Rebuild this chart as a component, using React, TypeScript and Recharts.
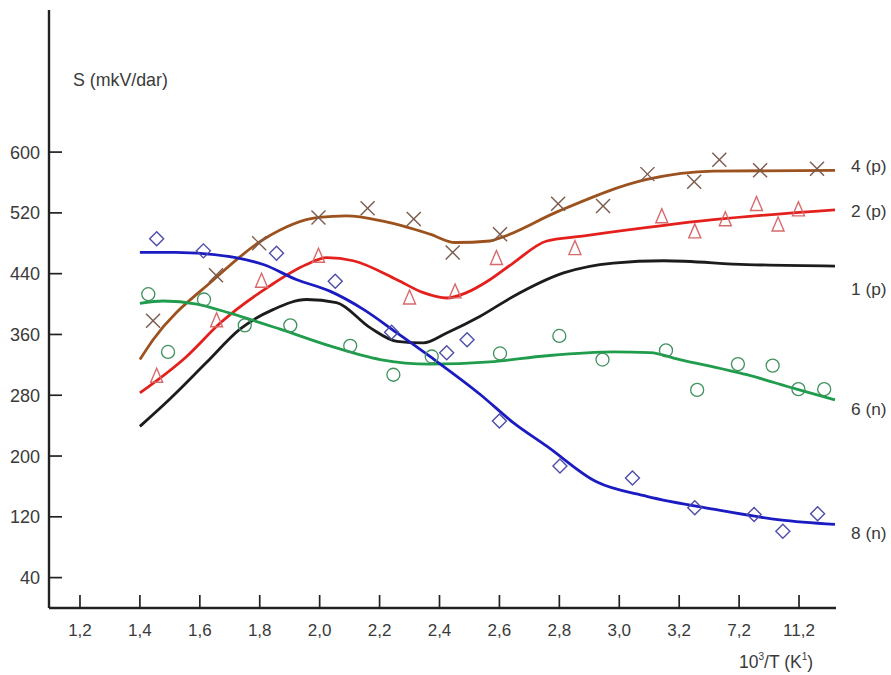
import React from 'react';
import { ComposedChart, Line, Scatter, XAxis, YAxis } from 'recharts';

// x positions are in tick-index units (0 = "1,2", 1 = "1,4", ... 12 = "11,2")
const xTickLabels = ['1,2', '1,4', '1,6', '1,8', '2,0', '2,2', '2,4', '2,6', '2,8', '3,0', '3,2', '7,2', '11,2'];
const xTicks = [0, 1, 2, 3, 4, 5, 6, 7, 8, 9, 10, 11, 12];
const yTicks = [40, 120, 200, 280, 360, 440, 520, 600];

// curve 4 (p) - brown
const c4X = [1.0, 1.22, 2.23, 3.06, 3.98, 4.45, 5.06, 5.84, 6.26, 6.84, 7.01, 7.98, 9.46, 10.57, 12.6];
const c4Y = [327, 353, 432, 485, 514, 516, 509, 492, 481, 483, 487, 522, 564, 575, 576];
const m4X = [1.22, 2.27, 2.99, 3.98, 4.8, 5.57, 6.22, 7.01, 7.98, 8.73, 9.47, 10.25, 10.67, 11.35, 12.3];
const m4Y = [378, 438, 480, 514, 526, 512, 468, 492, 532, 529, 571, 561, 590, 576, 578];

// curve 2 (p) - red
const c2X = [1.0, 1.78, 2.34, 3.17, 3.78, 4.12, 4.56, 5.29, 5.73, 6.12, 6.45, 6.84, 7.23, 7.79, 8.34, 10.57, 12.6];
const c2Y = [283, 331, 375, 424, 452, 461, 457, 432, 415, 408, 415, 432, 454, 483, 489, 511, 524];
const m2X = [1.28, 2.28, 3.03, 3.98, 5.5, 6.26, 6.95, 8.26, 9.71, 10.26, 10.77, 11.29, 11.65, 11.99];
const m2Y = [305, 378, 430, 463, 408, 416, 460, 473, 515, 495, 511, 531, 504, 524];

// curve 1 (p) - black
const c1X = [1.0, 1.5, 2.11, 2.67, 3.23, 3.78, 4.28, 4.84, 5.29, 5.73, 6.12, 6.68, 7.23, 8.07, 8.9, 9.74, 11.13, 12.6];
const c1Y = [239, 275, 323, 367, 393, 406, 402, 369, 351, 349, 362, 384, 410, 441, 454, 457, 452, 450];

// curve 6 (n) - green
const c6X = [1.0, 1.39, 1.95, 2.5, 3.34, 4.17, 5.01, 5.84, 6.84, 7.79, 8.9, 9.51, 10.01, 11.13, 11.96, 12.6];
const c6Y = [401, 404, 400, 388, 367, 345, 327, 321, 324, 332, 337, 336, 327, 307, 288, 274];
const m6X = [1.14, 1.47, 2.07, 2.75, 3.51, 4.51, 5.23, 5.87, 7.01, 8.0, 8.72, 9.78, 10.3, 10.98, 11.56, 11.99, 12.42];
const m6Y = [413, 337, 406, 372, 372, 345, 307, 331, 335, 358, 327, 339, 287, 321, 319, 288, 288];

// curve 8 (n) - blue
const c8X = [1.0, 1.6, 2.1, 2.6, 3.06, 3.62, 4.17, 4.73, 5.29, 5.84, 6.68, 7.23, 7.79, 8.62, 9.46, 10.57, 11.68, 12.6];
const c8Y = [468, 468, 466, 461, 452, 432, 417, 393, 362, 331, 281, 244, 213, 166, 147, 130, 116, 110];
const m8X = [1.28, 2.06, 3.28, 4.26, 5.2, 6.12, 6.46, 7.0, 8.01, 9.22, 10.26, 11.25, 11.73, 12.31];
const m8Y = [486, 470, 467, 430, 363, 336, 353, 246, 187, 171, 132, 123, 101, 124];

const seriesLabels = ['4 (p)', '2 (p)', '1 (p)', '6 (n)', '8 (n)'];
const seriesLabelY = [166, 211, 289, 409, 533];

const zip = (xs: number[], ys: number[]) => xs.map((x, i) => ({ x, y: ys[i] }));

const TEXT = '#3a3a3a';
const FONT = '"Liberation Sans", Arial, sans-serif';

const YTick = (props: any) => {
  const { x, y, payload } = props;
  return (
    <g>
      <line x1={x} x2={x + 13} y1={y} y2={y} stroke="#222" strokeWidth={1.7} />
      <text x={x - 9} y={y + 6.5} textAnchor="end" fontSize={18} fill={TEXT} fontFamily={FONT}>
        {payload.value}
      </text>
    </g>
  );
};

const XTick = (props: any) => {
  const { x, y, payload } = props;
  return (
    <g>
      <line x1={x} x2={x} y1={y - 13} y2={y} stroke="#222" strokeWidth={1.7} />
      <text x={x} y={y + 28} textAnchor="middle" fontSize={17} fill={TEXT} fontFamily={FONT}>
        {xTickLabels[payload.value]}
      </text>
    </g>
  );
};

const Cross = (p: any) => {
  const { cx, cy } = p;
  const s = 7;
  return (
    <g stroke="#7a5a4c" strokeWidth={1.4}>
      <line x1={cx - s} y1={cy - s} x2={cx + s} y2={cy + s} />
      <line x1={cx - s} y1={cy + s} x2={cx + s} y2={cy - s} />
    </g>
  );
};
const Tri = (p: any) => {
  const { cx, cy } = p;
  return (
    <polygon
      points={`${cx},${cy - 8} ${cx - 6},${cy + 6} ${cx + 6},${cy + 6}`}
      fill="none"
      stroke="#d8696b"
      strokeWidth={1.4}
    />
  );
};
const Circ = (p: any) => {
  const { cx, cy } = p;
  return <circle cx={cx} cy={cy} r={6.5} fill="none" stroke="#3f915d" strokeWidth={1.3} />;
};
const Diam = (p: any) => {
  const { cx, cy } = p;
  const s = 7;
  return (
    <polygon
      points={`${cx},${cy - s} ${cx + s},${cy} ${cx},${cy + s} ${cx - s},${cy}`}
      fill="none"
      stroke="#4d4daa"
      strokeWidth={1.4}
    />
  );
};

export default function App() {
  return (
    <div style={{ position: 'absolute', left: 0, top: 0, width: 891, height: 675, background: '#fff' }}>
      <ComposedChart width={891} height={675} margin={{ top: 10, right: 55, bottom: 0, left: 0 }}>
        <XAxis
          type="number"
          dataKey="x"
          domain={[-0.517, 12.617]}
          ticks={xTicks}
          tick={<XTick />}
          tickSize={0}
          tickMargin={0}
          tickLine={false}
          axisLine={{ stroke: '#222', strokeWidth: 2.4 }}
          height={67}
          allowDataOverflow
          interval={0}
        />
        <YAxis
          type="number"
          dataKey="y"
          domain={[0, 787]}
          ticks={yTicks}
          tick={<YTick />}
          tickSize={0}
          tickMargin={0}
          tickLine={false}
          axisLine={{ stroke: '#222', strokeWidth: 2.4 }}
          width={49}
          allowDataOverflow
          interval={0}
        />
        <Line data={zip(c4X, c4Y)} dataKey="y" type="monotone" stroke="#9c521f" strokeWidth={2.8} dot={false} isAnimationActive={false} />
        <Line data={zip(c2X, c2Y)} dataKey="y" type="monotone" stroke="#e3201c" strokeWidth={2.8} dot={false} isAnimationActive={false} />
        <Line data={zip(c1X, c1Y)} dataKey="y" type="monotone" stroke="#1c1c1c" strokeWidth={2.8} dot={false} isAnimationActive={false} />
        <Line data={zip(c6X, c6Y)} dataKey="y" type="monotone" stroke="#1f9d4c" strokeWidth={2.8} dot={false} isAnimationActive={false} />
        <Line data={zip(c8X, c8Y)} dataKey="y" type="monotone" stroke="#1b1bc2" strokeWidth={2.8} dot={false} isAnimationActive={false} />
        <Scatter data={zip(m4X, m4Y)} dataKey="y" shape={<Cross />} isAnimationActive={false} />
        <Scatter data={zip(m2X, m2Y)} dataKey="y" shape={<Tri />} isAnimationActive={false} />
        <Scatter data={zip(m6X, m6Y)} dataKey="y" shape={<Circ />} isAnimationActive={false} />
        <Scatter data={zip(m8X, m8Y)} dataKey="y" shape={<Diam />} isAnimationActive={false} />
      </ComposedChart>
      <svg width={891} height={675} style={{ position: 'absolute', left: 0, top: 0, pointerEvents: 'none' }}>
        <text x={73} y={86} fontSize={17.8} fill={TEXT} fontFamily={FONT}>S (mkV/dar)</text>
        {seriesLabels.map((t, i) => (
          <text key={t} x={851} y={seriesLabelY[i] + 6} fontSize={17.3} fill={TEXT} fontFamily={FONT}>{t}</text>
        ))}
        <text x={739} y={668} fontSize={17.5} fill={TEXT} fontFamily={FONT}>
          10<tspan fontSize={10} dy={-8}>3</tspan>
          <tspan dy={8}>/T (K</tspan>
          <tspan fontSize={10} dy={-8}>1</tspan>
          <tspan dy={8}>)</tspan>
        </text>
      </svg>
    </div>
  );
}
